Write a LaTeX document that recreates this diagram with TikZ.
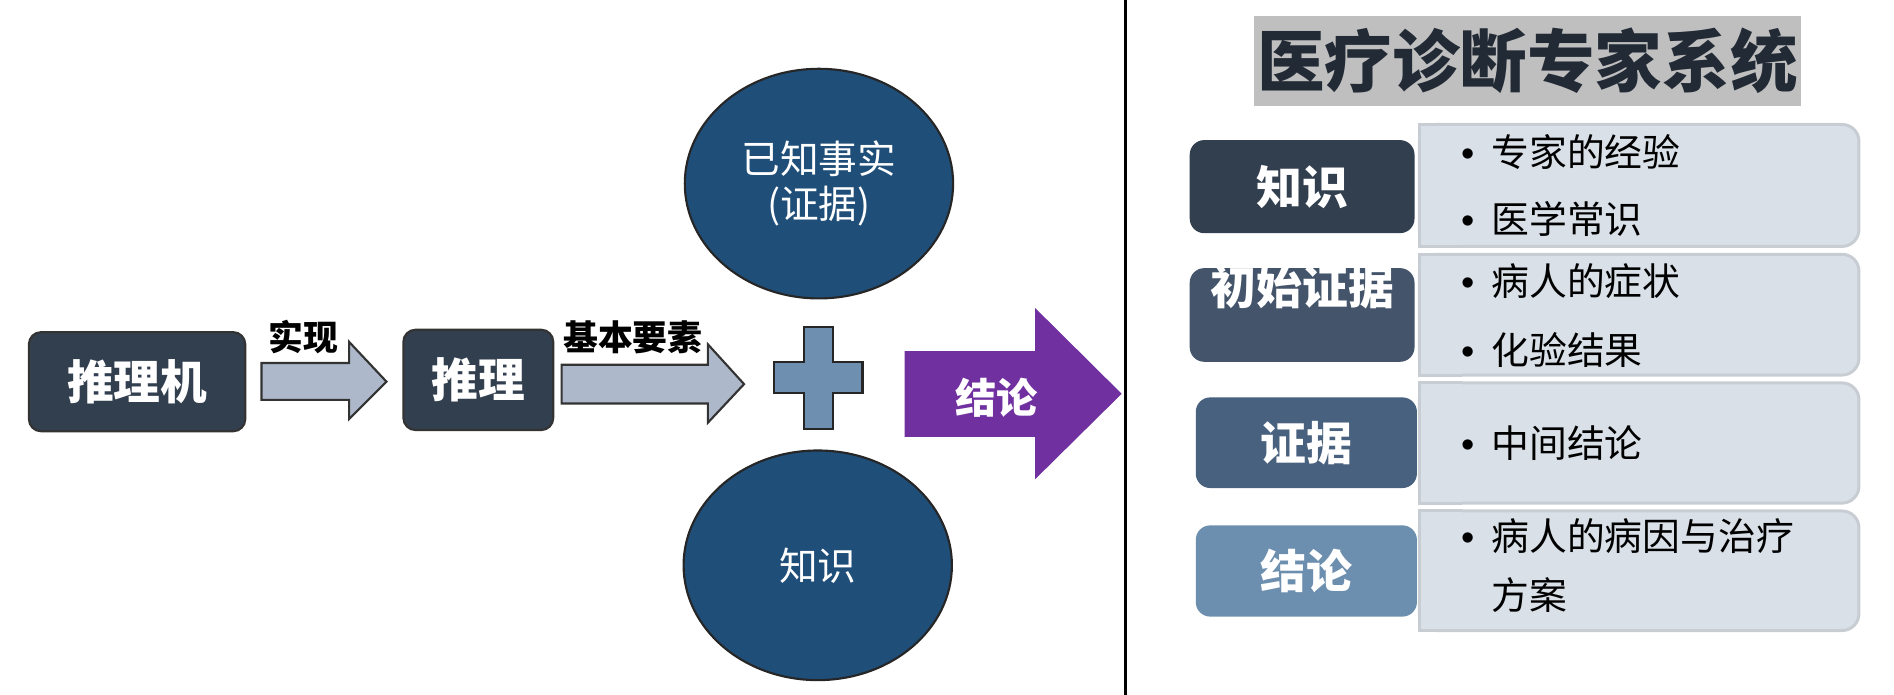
\documentclass[tikz,border=0pt]{standalone}
\usepackage{fontspec}
\setmainfont{Noto Sans CJK SC}
\newfontfamily\bulletfont{Liberation Sans}
\usetikzlibrary{shapes.geometric, calc}
\definecolor{slate}{HTML}{323F4F}
\definecolor{arrowgray}{HTML}{ADB9CA}
\definecolor{ellblue}{HTML}{1F4E79}
\definecolor{plusblue}{HTML}{6F8FB0}
\definecolor{violet}{HTML}{7030A0}
\definecolor{titlegray}{HTML}{BFBFBF}
\definecolor{titleink}{HTML}{222A35}
\definecolor{panelfill}{HTML}{D9E0E8}
\definecolor{panelline}{HTML}{C8CDD3}
\definecolor{rowa}{HTML}{323F4F}
\definecolor{rowb}{HTML}{44546A}
\definecolor{rowc}{HTML}{48617F}
\definecolor{rowd}{HTML}{6D8FAF}
\tikzset{
  darkbox/.style={draw=black!80, line width=0.5pt, fill=slate, rounded corners=0.1cm, text=white,
    inner sep=0pt, font=\bfseries\fontsize{11}{13}\selectfont},
  steplabel/.style={inner sep=0pt, font=\bfseries\fontsize{8.2}{10}\selectfont},
  grayarrow/.style={draw=black!80, line width=0.5pt, fill=arrowgray},
  fact/.style={ellipse, draw=black!85, line width=0.5pt, fill=ellblue, text=white, inner sep=0pt,
    minimum width=2.22cm, minimum height=1.9cm, align=center, font=\fontsize{9.1}{10.5}\selectfont},
  rowbox/.style={rounded corners=0.12cm, text=white, inner sep=0pt, minimum width=1.86cm,
    font=\bfseries\fontsize{10.8}{13}\selectfont},
  panel/.style={fill=panelfill, draw=panelline, line width=0.7pt},
  item/.style={anchor=west, inner sep=0pt, font=\fontsize{8.9}{10}\selectfont}
}
\newcommand{\dotitem}{{\bulletfont •}\hspace{4pt}}

\begin{document}
\begin{tikzpicture}[x=0.01cm, y=-0.01cm]
\useasboundingbox (0,0) rectangle (1568,575);
\node[darkbox, minimum width=1.79cm, minimum height=0.82cm] (engine) at (113.5,316) {推理机};
\node[darkbox, minimum width=1.24cm, minimum height=0.83cm] (reason) at (396,314.5) {推理};
\draw[grayarrow] (216.5,300.5) -- (289,300.5) -- (289,283) -- (320,316) -- (289,347) -- (289,331) -- (216.5,331) -- cycle;
\draw[grayarrow] (465,302) -- (586,302) -- (586,285) -- (616,318) -- (586,350) -- (586,334) -- (465,334) -- cycle;
\node[steplabel] (realize) at (251.5,279) {实现};
\node[steplabel] (basics) at (524,279) {基本要素};
\node[fact] (facts) at (678,152) {已知事实\\(证据)};
\node[fact] (know) at (677,468) {知识};
\draw[draw=black!85, line width=0.5pt, fill=plusblue] (665.6,270.5) -- (689.4,270.5) -- (689.4,300) -- (714,300)
  -- (714,325) -- (689.4,325) -- (689.4,355) -- (665.6,355) -- (665.6,325) -- (641,325) -- (641,300) -- (665.6,300) -- cycle;
\fill[violet] (749,290.6) -- (857,290.6) -- (857,255) -- (928.6,326) -- (857,396.7) -- (857,361.6) -- (749,361.6) -- cycle;
\node[text=white, inner sep=0pt, font=\bfseries\fontsize{9.7}{12}\selectfont] (concl) at (825,329) {结论};
\draw[line width=0.6pt] (932,0) -- (932,575);
\node[fill=titlegray, text=titleink, inner sep=0pt, minimum width=4.53cm, minimum height=0.75cm,
  font=\bfseries\fontsize{15.9}{18}\selectfont] (title) at (1264.5,50.5) {医疗诊断专家系统};
\foreach \top/\bot in {103/204, 210.5/310.5, 317/416.5, 423/522} {
  \draw[panel, rounded corners=0.14cm] (1175,\top) rectangle (1539,\bot);
  \fill[panelfill] (1175,\top) rectangle (1210,\bot);
  \draw[panelline, line width=0.7pt] (1210,\top) -| (1175,\bot) -- (1210,\bot);
}
\node[rowbox, fill=rowa, minimum height=0.77cm] (rknow) at (1078,154.5) {知识};
\node[rowbox, fill=rowb, text height=0.30cm, text depth=0.475cm] (rinit) at (1078,260.75) {初始证据};
\node[rowbox, fill=rowc, minimum width=1.83cm, minimum height=0.75cm] (rev) at (1081.5,366.5) {证据};
\node[rowbox, fill=rowd, minimum width=1.83cm, minimum height=0.755cm] (rconc) at (1081.5,472.7) {结论};
\node[item] (i1) at (1209,126) {\dotitem 专家的经验};
\node[item] (i2) at (1209,181) {\dotitem 医学常识};
\node[item] (i3) at (1209,233) {\dotitem 病人的症状};
\node[item] (i4) at (1209,290) {\dotitem 化验结果};
\node[item] (i5) at (1209,367) {\dotitem 中间结论};
\node[item] (i6) at (1209,443.6) {\dotitem 病人的病因与治疗};
\node[item] (i7) at (1234,493) {方案};
\end{tikzpicture}
\end{document}
